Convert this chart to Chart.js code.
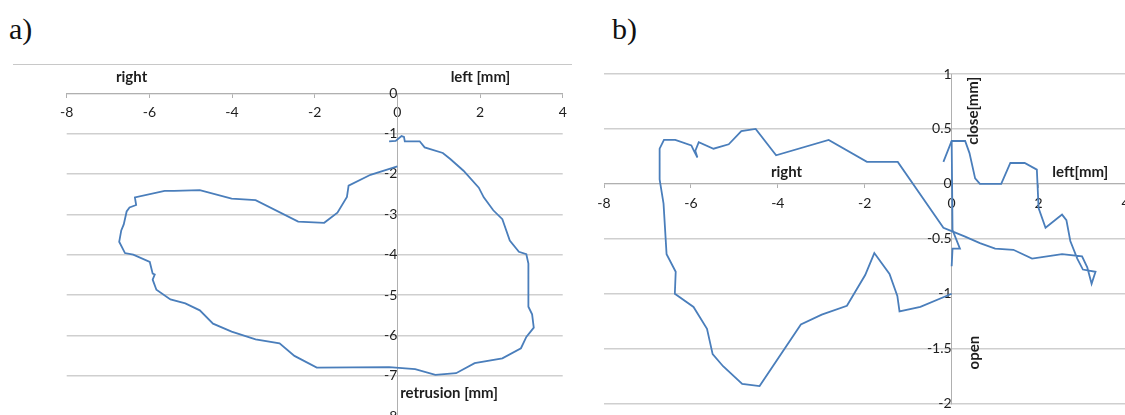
<!DOCTYPE html>
<html><head><meta charset="utf-8">
<script src="https://cdn.jsdelivr.net/npm/chart.js@4/dist/chart.umd.min.js"></script>
<style>
html,body{margin:0;padding:0;width:1125px;height:415px;overflow:hidden;background:#fff;}
#wrapA{position:absolute;left:0;top:0;width:580px;height:415px;overflow:hidden;}
#wrapB{position:absolute;left:580px;top:0;width:545px;height:415px;overflow:hidden;}
canvas{position:absolute;left:0;top:0;}
.panel{position:absolute;font-family:"Liberation Serif",serif;font-size:30px;color:#111;line-height:1;}
#frameA{position:absolute;left:13px;top:64px;width:559px;height:0;border-top:1.4px solid #c8c8c8;}
</style>
</head><body>
<div class="panel" style="left:9px;top:14px;">a)</div>
<div class="panel" style="left:612px;top:14px;">b)</div>
<div id="frameA"></div>
<div id="wrapA"><canvas id="cA" width="580" height="440"></canvas></div>
<div id="wrapB"><canvas id="cB" width="600" height="415"></canvas></div>
<script>
// ---- Chart a) : lateral (x) vs retrusion (y), mm ----
const aX = [0,-0.65,-1.18,-1.22,-1.45,-1.77,-2.40,-3.43,-4.01,-4.78,-5.40,-5.63,-6.35,-6.32,-6.48,-6.55,-6.62,-6.68,-6.73,-6.59,-6.39,-5.99,-5.92,-5.87,-5.92,-5.83,-5.49,-5.13,-4.78,-4.46,-4.01,-3.43,-2.85,-2.49,-1.95,-0.20,0.43,0.92,1.42,1.87,2.54,2.99,3.12,3.30,3.26,3.17,3.17,3.17,3.12,2.94,2.72,2.54,2.32,2.09,1.97,1.60,1.28,1.10,0.66,0.54,0.18,0.16,0.10,-0.04,-0.20];
const aY = [-1.81,-2.02,-2.29,-2.57,-2.96,-3.21,-3.18,-2.65,-2.61,-2.40,-2.42,-2.42,-2.58,-2.77,-2.83,-2.93,-3.25,-3.40,-3.68,-3.96,-4.00,-4.18,-4.47,-4.49,-4.62,-4.87,-5.11,-5.21,-5.38,-5.71,-5.91,-6.10,-6.20,-6.51,-6.80,-6.79,-6.84,-6.98,-6.94,-6.69,-6.57,-6.32,-6.04,-5.81,-5.48,-5.29,-4.80,-4.22,-3.99,-3.93,-3.65,-3.12,-2.90,-2.58,-2.34,-1.92,-1.63,-1.48,-1.34,-1.19,-1.19,-1.08,-1.06,-1.18,-1.19];
const aXTicks = {min:-8, max:4, step:2};
const aYTicks = {min:-8, max:0, step:1};
const aLabels = ["right","left [mm]","retrusion [mm]"];

// ---- Chart b) : lateral (x) vs open/close (y), mm ----
const bX = [-0.19,0,0.31,0.41,0.54,0.65,1.14,1.35,1.68,1.96,2.0,2.16,2.54,2.64,2.73,2.89,3.02,3.31,3.22,3.12,3.0,2.54,1.85,1.42,1.0,0.65,0.31,0,-0.19,-1.24,-1.95,-2.83,-4.04,-4.51,-4.84,-5.13,-5.48,-5.82,-5.90,-5.85,-5.93,-5.99,-6.36,-6.62,-6.72,-6.72,-6.63,-6.56,-6.35,-6.37,-5.94,-5.63,-5.50,-5.26,-4.82,-4.42,-3.47,-2.99,-2.41,-1.99,-1.78,-1.43,-1.25,-1.20,-0.72,0];
const bY = [0.20,0.39,0.39,0.28,0.05,0,0,0.19,0.19,0.13,-0.22,-0.40,-0.28,-0.33,-0.52,-0.68,-0.78,-0.80,-0.91,-0.76,-0.66,-0.64,-0.68,-0.60,-0.59,-0.54,-0.48,-0.43,-0.40,0.20,0.20,0.40,0.26,0.50,0.48,0.36,0.32,0.38,0.30,0.24,0.30,0.35,0.40,0.40,0.32,0.04,-0.18,-0.64,-0.80,-1.0,-1.12,-1.32,-1.55,-1.66,-1.82,-1.84,-1.28,-1.19,-1.11,-0.83,-0.63,-0.82,-1.02,-1.16,-1.12,-1.0];
const bHookX = [0,0.02,0.19,0.02,0];
const bHookY = [0.39,-0.42,-0.59,-0.59,-0.75];
const bXTicks = {min:-8, max:4, step:2};
const bYTicks = {min:-2, max:1, step:0.5};
const bLabels = ["right","left[mm]","close[mm]","open"];

const LINE = '#4a7ebb';
const GRID = '#cfcfcf';
const AXIS = '#b0b0b0';
const TXT = '#1e1e1e';
const FONT = 'Lato';

function pts(xs, ys){ return xs.map((v,i)=>({x:v, y:ys[i]})); }
const fmt = v => String(Math.round(v*100)/100);

const annot = {
  id:'annot',
  afterDraw(chart, args, opts){
    const {ctx} = chart; const sx = chart.scales.x, sy = chart.scales.y;
    ctx.save();
    ctx.fillStyle = TXT; ctx.font = 'bold 15px ' + FONT;
    ctx.textAlign = 'center'; ctx.textBaseline = 'middle';
    for (const t of opts.items){
      ctx.save();
      ctx.translate(sx.getPixelForValue(t.x), sy.getPixelForValue(t.y));
      if (t.rot) ctx.rotate(t.rot);
      ctx.fillText(t.text, 0, 0);
      ctx.restore();
    }
    ctx.restore();
  }
};

function makeOpts(xt, yt, pad, xPad, items){
  return {
    responsive:false, animation:false, devicePixelRatio:1,
    layout:{padding:pad},
    plugins:{legend:{display:false}, tooltip:{enabled:false}, annot:{items}},
    scales:{
      x:{type:'linear', min:xt.min, max:xt.max, position:{y:0},
         ticks:{stepSize:xt.step, color:TXT, font:{family:FONT, size:14}, padding:xPad, maxRotation:0, autoSkip:false, callback:fmt},
         grid:{drawOnChartArea:false, drawTicks:true, tickLength:4, color:AXIS, tickColor:AXIS},
         border:{display:true, color:AXIS, width:1}},
      y:{type:'linear', min:yt.min, max:yt.max, position:{x:0},
         ticks:{stepSize:yt.step, color:TXT, font:{family:FONT, size:14}, padding:3, autoSkip:false, callback:fmt},
         grid:{color:GRID, lineWidth:1.4, drawTicks:true, tickLength:10, tickColor:'rgba(0,0,0,0)'},
         border:{display:true, color:AXIS, width:1}}
    }
  };
}

const ds = (data)=>({data, borderColor:LINE, borderWidth:1.8, pointRadius:0, showLine:true, tension:0, fill:false});

new Chart(document.getElementById('cA'), {
  type:'scatter',
  data:{datasets:[ds(pts(aX,aY))]},
  options: makeOpts(aXTicks, aYTicks, {left:66.7, right:17.3, top:93.3, bottom:24}, 6.5, [
    {text:aLabels[0], x:-6.43, y:0.39},
    {text:aLabels[1], x:2.01, y:0.39},
    {text:aLabels[2], x:1.25, y:-7.44}
  ]),
  plugins:[annot]
});

new Chart(document.getElementById('cB'), {
  type:'scatter',
  data:{datasets:[ds(pts(bX,bY)), ds(pts(bHookX,bHookY))]},
  options: makeOpts(bXTicks, bYTicks, {left:24, right:54.5, top:74, bottom:11}, 7.5, [
    {text:bLabels[0], x:-3.80, y:0.106},
    {text:bLabels[1], x:2.96, y:0.106},
    {text:bLabels[2], x:0.49, y:0.665, rot:-Math.PI/2},
    {text:bLabels[3], x:0.51, y:-1.536, rot:-Math.PI/2}
  ]),
  plugins:[annot]
});
</script>
</body></html>
